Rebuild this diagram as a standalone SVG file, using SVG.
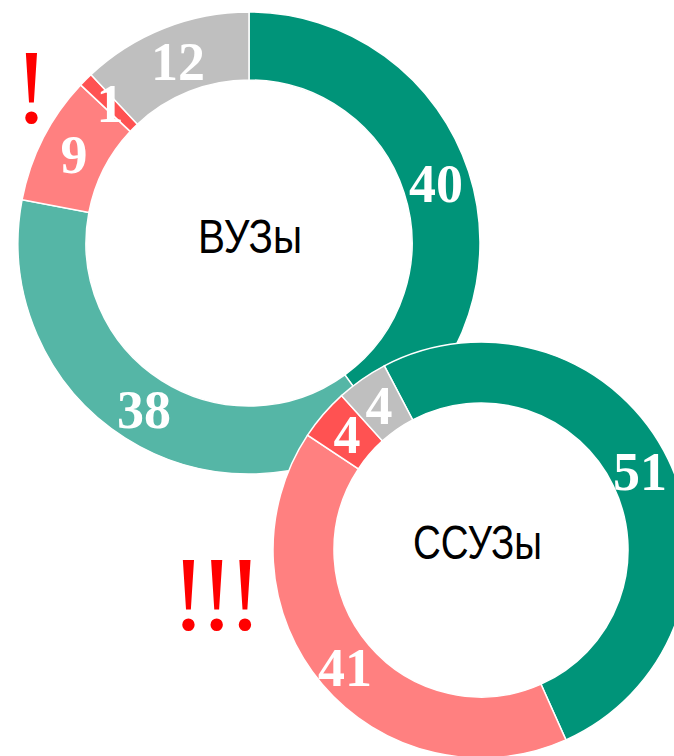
<svg xmlns="http://www.w3.org/2000/svg" width="674" height="756" viewBox="0 0 674 756">
<style>
.seg{stroke:#FFFFFF;stroke-width:1.5;stroke-linejoin:miter}
.dk{fill:#009479}
.lt{fill:#55B6A6}
.sa{fill:#FF8080}
.rd{fill:#FF5252}
.gr{fill:#BFBFBF}
.lbl{font-family:"Liberation Serif","Times New Roman",serif;font-weight:bold;font-size:54px;fill:#FFFFFF;text-anchor:middle}
.ttl{font-family:"Liberation Sans",Arial,sans-serif;font-size:48px;fill:#000000;text-anchor:middle}
.exc{font-family:"Liberation Serif","Times New Roman",serif;font-size:105px;fill:#FF0000;text-anchor:middle}
</style>
<rect width="674" height="756" fill="#FFFFFF"/>
<g id="vuz">
  <path class="seg dk" d="M249,12 A231,231 0 0 1 384.78,429.88 L344.81,374.87 A163,163 0 0 0 249,80 Z"/>
  <path class="seg lt" d="M384.78,429.88 A231,231 0 0 1 22.09,199.71 L88.89,212.46 A163,163 0 0 0 344.81,374.87 Z"/>
  <path class="seg sa" d="M22.09,199.71 A231,231 0 0 1 80.61,84.87 L130.18,131.42 A163,163 0 0 0 88.89,212.46 Z"/>
  <path class="seg rd" d="M80.61,84.87 A231,231 0 0 1 90.87,74.61 L137.42,124.18 A163,163 0 0 0 130.18,131.42 Z"/>
  <path class="seg gr" d="M90.87,74.61 A231,231 0 0 1 249,12 L249,80 A163,163 0 0 0 137.42,124.18 Z"/>
  <text class="lbl" x="436" y="202">40</text>
  <text class="lbl" x="144" y="428">38</text>
  <text class="lbl" x="74" y="173">9</text>
  <text class="lbl" x="110" y="122">1</text>
  <text class="lbl" x="178" y="80">12</text>
  <text class="ttl" x="250" y="253" textLength="104" lengthAdjust="spacingAndGlyphs">ВУЗы</text>
</g>
<g id="ssuz">
  <path class="seg dk" d="M384.31,365.84 A208,208 0 1 1 565.93,739.87 L541.02,684.19 A147,147 0 1 0 412.67,419.85 Z"/>
  <path class="seg sa" d="M565.93,739.87 A208,208 0 0 1 307.55,435.2 L358.42,468.87 A147,147 0 0 0 541.02,684.19 Z"/>
  <path class="seg rd" d="M307.55,435.2 A208,208 0 0 1 341.55,395.67 L382.45,440.93 A147,147 0 0 0 358.42,468.87 Z"/>
  <path class="seg gr" d="M341.55,395.67 A208,208 0 0 1 384.31,365.84 L412.67,419.85 A147,147 0 0 0 382.45,440.93 Z"/>
  <text class="lbl" x="640" y="490">51</text>
  <text class="lbl" x="345" y="686">41</text>
  <text class="lbl" x="347" y="453">4</text>
  <text class="lbl" x="379" y="424">4</text>
  <text class="ttl" x="477.5" y="559" textLength="129" lengthAdjust="spacingAndGlyphs">ССУЗы</text>
</g>
<g id="marks">
  <text class="exc" x="31.5" y="123">!</text>
  <text class="exc" x="188.5 216.7 245" y="630">!!!</text>
</g>
</svg>
